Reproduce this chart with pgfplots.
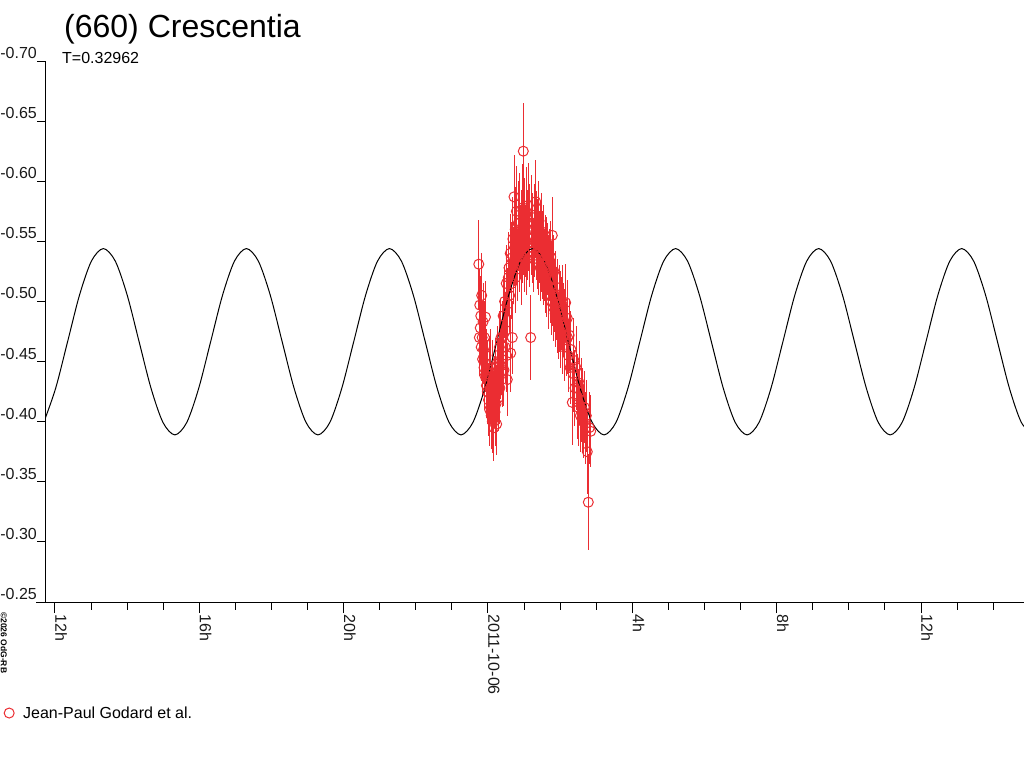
\documentclass[border=0pt]{standalone}
\usepackage{pgfplots}
\pgfplotsset{compat=1.18}
\usepackage{pgfplotstable}
\usepackage{fontspec}
\setmainfont{Liberation Sans}
\definecolor{obsred}{RGB}{235,45,50}

\pgfplotstableread{
t v e
-0.255 -0.531 0.037
-0.240 -0.470 0.032
-0.228 -0.497 0.030
-0.215 -0.478 0.030
-0.200 -0.488 0.033
-0.188 -0.462 0.028
-0.175 -0.505 0.035
-0.162 -0.470 0.030
-0.150 -0.452 0.030
-0.137 -0.483 0.032
-0.124 -0.460 0.029
-0.110 -0.445 0.028
-0.097 -0.470 0.030
-0.084 -0.438 0.028
-0.070 -0.487 0.030
-0.057 -0.455 0.030
-0.044 -0.430 0.027
-0.030 -0.447 0.030
-0.017 -0.425 0.027
0.000 -0.440 0.028
0.015 -0.418 0.030
0.030 -0.443 0.028
0.045 -0.410 0.030
0.060 -0.428 0.030
0.075 -0.445 0.032
0.090 -0.405 0.028
0.105 -0.420 0.030
0.120 -0.400 0.026
0.135 -0.438 0.030
0.150 -0.412 0.030
0.165 -0.395 0.028
0.180 -0.425 0.030
0.195 -0.408 0.028
0.210 -0.440 0.030
0.225 -0.415 0.032
0.240 -0.398 0.026
0.255 -0.430 0.030
0.270 -0.450 0.030
0.285 -0.420 0.028
0.300 -0.440 0.030
0.315 -0.462 0.030
0.330 -0.428 0.030
0.345 -0.447 0.028
0.360 -0.470 0.032
0.375 -0.452 0.030
0.390 -0.470 0.030
0.405 -0.440 0.028
0.420 -0.488 0.032
0.443 -0.443 0.030
0.460 -0.500 0.030
0.475 -0.462 0.030
0.490 -0.476 0.032
0.505 -0.515 0.032
0.520 -0.455 0.030
0.535 -0.435 0.030
0.550 -0.498 0.030
0.565 -0.520 0.032
0.582 -0.528 0.030
0.600 -0.505 0.030
0.615 -0.540 0.033
0.629 -0.457 0.032
0.646 -0.536 0.030
0.660 -0.515 0.030
0.673 -0.470 0.030
0.690 -0.552 0.035
0.705 -0.530 0.032
0.721 -0.587 0.035
0.738 -0.545 0.032
0.755 -0.560 0.035
0.770 -0.520 0.030
0.787 -0.575 0.038
0.803 -0.548 0.032
0.820 -0.530 0.030
0.836 -0.565 0.035
0.852 -0.555 0.030
0.868 -0.540 0.032
0.885 -0.572 0.035
0.900 -0.550 0.030
0.916 -0.530 0.033
0.932 -0.560 0.033
0.948 -0.545 0.030
0.963 -0.578 0.036
0.978 -0.625 0.040
0.993 -0.555 0.033
1.010 -0.540 0.032
1.025 -0.568 0.035
1.040 -0.550 0.030
1.055 -0.575 0.037
1.070 -0.535 0.030
1.085 -0.560 0.033
1.100 -0.548 0.030
1.115 -0.580 0.035
1.130 -0.555 0.030
1.145 -0.542 0.030
1.160 -0.565 0.033
1.183 -0.470 0.035
1.200 -0.552 0.030
1.215 -0.570 0.035
1.230 -0.545 0.030
1.245 -0.560 0.030
1.260 -0.538 0.030
1.275 -0.565 0.033
1.290 -0.550 0.030
1.307 -0.572 0.035
1.322 -0.583 0.035
1.340 -0.548 0.030
1.355 -0.560 0.032
1.370 -0.540 0.030
1.385 -0.555 0.030
1.400 -0.535 0.030
1.413 -0.567 0.033
1.430 -0.545 0.030
1.445 -0.528 0.028
1.460 -0.552 0.030
1.475 -0.538 0.030
1.490 -0.558 0.032
1.505 -0.532 0.030
1.520 -0.545 0.030
1.535 -0.525 0.028
1.550 -0.550 0.030
1.565 -0.530 0.030
1.580 -0.542 0.030
1.600 -0.520 0.030
1.618 -0.540 0.030
1.635 -0.515 0.028
1.652 -0.535 0.030
1.670 -0.525 0.030
1.688 -0.505 0.028
1.705 -0.530 0.030
1.722 -0.512 0.030
1.738 -0.537 0.030
1.755 -0.500 0.028
1.770 -0.520 0.030
1.782 -0.555 0.032
1.800 -0.510 0.030
1.815 -0.495 0.028
1.829 -0.525 0.030
1.845 -0.505 0.030
1.862 -0.490 0.028
1.880 -0.512 0.030
1.897 -0.498 0.030
1.915 -0.485 0.028
1.932 -0.505 0.030
1.950 -0.480 0.028
1.968 -0.500 0.030
1.985 -0.488 0.030
2.003 -0.495 0.030
2.020 -0.475 0.030
2.038 -0.490 0.030
2.055 -0.500 0.030
2.072 -0.470 0.030
2.090 -0.485 0.030
2.108 -0.462 0.028
2.125 -0.480 0.030
2.153 -0.499 0.032
2.175 -0.468 0.030
2.198 -0.486 0.032
2.205 -0.470 0.030
2.225 -0.455 0.030
2.250 -0.472 0.030
2.275 -0.445 0.030
2.300 -0.460 0.032
2.336 -0.416 0.035
2.360 -0.440 0.032
2.383 -0.451 0.035
2.410 -0.428 0.032
2.440 -0.445 0.035
2.475 -0.421 0.035
2.500 -0.412 0.032
2.530 -0.432 0.035
2.560 -0.405 0.030
2.590 -0.418 0.035
2.613 -0.410 0.035
2.640 -0.400 0.030
2.670 -0.412 0.030
2.700 -0.395 0.030
2.725 -0.405 0.030
2.752 -0.375 0.035
2.780 -0.333 0.040
2.810 -0.395 0.030
2.846 -0.392 0.030
}\obsdata

\pgfplotstableread{
t v
-12.3120 -0.3994
-11.9816 -0.4278
-11.6512 -0.4665
-11.3208 -0.5053
-10.9904 -0.5336
-10.6600 -0.5440
-10.3296 -0.5336
-9.9992 -0.5053
-9.6688 -0.4665
-9.3384 -0.4278
-9.0080 -0.3994
-8.6776 -0.3890
-8.3472 -0.3994
-8.0168 -0.4278
-7.6864 -0.4665
-7.3560 -0.5053
-7.0256 -0.5336
-6.6952 -0.5440
-6.3648 -0.5336
-6.0344 -0.5053
-5.7040 -0.4665
-5.3736 -0.4278
-5.0432 -0.3994
-4.7128 -0.3890
-4.3824 -0.3994
-4.0520 -0.4278
-3.7216 -0.4665
-3.3912 -0.5053
-3.0608 -0.5336
-2.7304 -0.5440
-2.4000 -0.5336
-2.0696 -0.5053
-1.7392 -0.4665
-1.4088 -0.4278
-1.0784 -0.3994
-0.7480 -0.3890
-0.4176 -0.3994
-0.0872 -0.4278
0.2432 -0.4665
0.5736 -0.5053
0.9040 -0.5336
1.2344 -0.5440
1.5648 -0.5336
1.8952 -0.5053
2.2256 -0.4665
2.5560 -0.4278
2.8864 -0.3994
3.2168 -0.3890
3.5472 -0.3994
3.8776 -0.4278
4.2080 -0.4665
4.5384 -0.5053
4.8688 -0.5336
5.1992 -0.5440
5.5296 -0.5336
5.8600 -0.5053
6.1904 -0.4665
6.5208 -0.4278
6.8512 -0.3994
7.1816 -0.3890
7.5120 -0.3994
7.8424 -0.4278
8.1728 -0.4665
8.5032 -0.5053
8.8336 -0.5336
9.1640 -0.5440
9.4944 -0.5336
9.8248 -0.5053
10.1552 -0.4665
10.4856 -0.4278
10.8160 -0.3994
11.1464 -0.3890
11.4768 -0.3994
11.8072 -0.4278
12.1376 -0.4665
12.4680 -0.5053
12.7984 -0.5336
13.1288 -0.5440
13.4592 -0.5336
13.7896 -0.5053
14.1200 -0.4665
14.4504 -0.4278
14.7808 -0.3994
15.1112 -0.3890
}\fitcurve

\begin{document}
\begin{tikzpicture}
\path[use as bounding box] (0pt,0pt) rectangle (1024pt,-768pt);
\begin{axis}[
  at={(45pt,-602pt)}, anchor=south west,
  scale only axis, width=979pt, height=541pt,
  xmin=-12.277, xmax=14.855,
  ymin=-0.70, ymax=-0.25, y dir=reverse,
  axis x line=bottom, axis y line=left,
  axis line style={-, line width=1pt, black},
  every outer x axis line/.append style={-},
  every outer y axis line/.append style={-},
  x axis line style={shorten <=-9pt},
  tick align=outside,
  major tick length=11pt, minor tick length=7.5pt,
  tick style={black, line width=1pt},
  xtick={-12,-8,-4,0,4,8,12},
  xticklabels={12h,16h,20h,2011-10-06,4h,8h,12h},
  minor xtick={-11,-10,-9,-7,-6,-5,-3,-2,-1,1,2,3,5,6,7,9,10,11,13,14},
  ytick={-0.70,-0.65,-0.60,-0.55,-0.50,-0.45,-0.40,-0.35,-0.30,-0.25},
  yticklabels={-0.70,-0.65,-0.60,-0.55,-0.50,-0.45,-0.40,-0.35,-0.30,-0.25},
  minor ytick={-0.70,-0.65,-0.60,-0.55,-0.50,-0.45,-0.40,-0.35,-0.30,-0.25},
  major y tick style={draw=none},
  minor y tick style={draw=black, line width=1pt},
  tick label style={font=\fontsize{16}{19}\selectfont, text=black!90},
  yticklabel style={anchor=base east, inner sep=0pt, xshift=3pt, yshift=2.5pt},
  xticklabel style={yshift=-1pt, xshift=0.5pt, rotate=-90, anchor=base west, inner sep=0pt},
  legend style={draw=none, fill=none, at={(axis description cs:-0.0419,-0.2052)}, anchor=west,
    font=\fontsize{16}{19}\selectfont, inner sep=0pt, column sep=7pt},
  legend cell align=left,
  legend image code/.code={\draw[#1] plot coordinates {(0pt,0pt)};},
]
\addplot[only marks, mark=o, mark size=5pt, mark options={draw=obsred, line width=1pt},
  error bars/.cd, y dir=both, y explicit, error mark=none,
  error bar style={obsred, line width=1pt}]
  table[x=t, y=v, y error=e] {\obsdata};
\addlegendentry{Jean-Paul Godard et al.}
\addplot[black, line width=1pt, smooth, forget plot] table[x=t, y=v] {\fitcurve};
\end{axis}
\node[anchor=base west, inner sep=0pt, font=\fontsize{32}{38}\selectfont] at (64pt,-37.5pt) {(660) Crescentia};
\node[anchor=base west, inner sep=0pt, font=\fontsize{16}{19}\selectfont] at (62pt,-63.3pt) {T=0.32962};
\node[rotate=-90, anchor=base west, inner sep=0pt, font=\fontsize{8.5}{10}\selectfont\bfseries] at (1pt,-612pt) {©2026 OdG-RB};
\end{tikzpicture}
\end{document}
